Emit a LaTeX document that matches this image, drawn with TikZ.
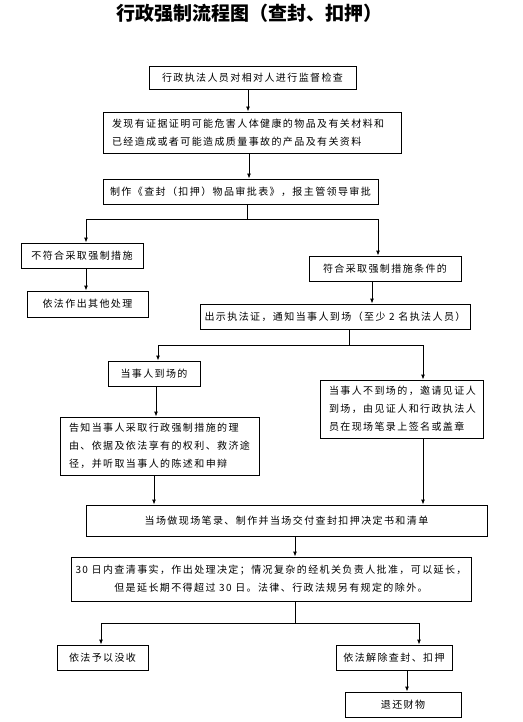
\documentclass[tikz,border=0pt]{standalone}
\usepackage{fontspec}
\setmainfont{Noto Sans CJK SC}[LetterSpace=14]
\newfontfamily\titlefont{Noto Sans CJK SC}
\usetikzlibrary{arrows.meta}
\begin{document}
\begin{tikzpicture}[x=1pt,y=-1pt,
  box/.style={draw, line width=0.9pt, inner sep=0pt, align=center, font=\fontsize{10}{18}\selectfont},
  lbox/.style={box, align=left, inner xsep=9pt},
  conn/.style={line width=0.9pt},
  arr/.style={conn, -{Latex[length=5pt,width=4pt]}}]
\useasboundingbox (0,0) rectangle (522,722);
\node[font=\titlefont\bfseries\fontsize{19}{19}\selectfont] (title) at (249,13.5) {行政强制流程图（查封、扣押）};

\node[box, minimum width=207pt, minimum height=23pt] (b1) at (252.5,77.5) {行政执法人员对相对人进行监督检查};
\node[lbox, text width=280pt, minimum height=41pt] (b2) at (252,132.5) {发现有证据证明可能危害人体健康的物品及有关材料和\\已经造成或者可能造成质量事故的产品及有关资料};
\node[box, minimum width=275pt, minimum height=25pt] (b3) at (240.5,191.5) {制作《查封（扣押）物品审批表》，报主管领导审批};
\node[box, minimum width=122pt, minimum height=25pt] (b4) at (82,255.5) {不符合采取强制措施};
\node[box, minimum width=121pt, minimum height=26pt] (b5) at (87.5,304) {依法作出其他处理};
\node[box, minimum width=152pt, minimum height=25pt] (b6) at (385,268.5) {符合采取强制措施条件的};
\node[box, minimum width=270pt, minimum height=25pt] (b7) at (335,316.5) {出示执法证，通知当事人到场（至少 2 名执法人员）};
\node[box, minimum width=92pt, minimum height=25pt] (b8) at (154,373.5) {当事人到场的};
\node[lbox, text width=145pt, minimum height=58pt] (b9) at (401.5,409) {当事人不到场的，邀请见证人\\到场，由见证人和行政执法人\\员在现场笔录上签名或盖章};
\node[lbox, text width=181pt, minimum height=58pt] (b10) at (159.5,446) {告知当事人采取行政强制措施的理\\由、依据及依法享有的权利、救济途\\径，并听取当事人的陈述和申辩};
\node[box, minimum width=401pt, minimum height=31pt] (b11) at (286.5,520.5) {当场做现场笔录、制作并当场交付查封扣押决定书和清单};
\node[box, minimum width=400pt, minimum height=44pt] (b12) at (271,579) {30 日内查清事实，作出处理决定；情况复杂的经机关负责人批准，可以延长，\\但是延长期不得超过 30 日。法律、行政法规另有规定的除外。};
\node[box, minimum width=91pt, minimum height=25pt] (b13) at (102.5,657.5) {依法予以没收};
\node[box, minimum width=116pt, minimum height=25pt] (b14) at (394,657.5) {依法解除查封、扣押};
\node[box, minimum width=116pt, minimum height=25pt] (b15) at (403,704.5) {退还财物};

\coordinate (j1) at (247,219);
\coordinate (j2) at (349,345);
\coordinate (j3) at (295,623);

\draw[arr] (248,0 |- b1.south) -- (248,0 |- b2.north);
\draw[arr] (249,0 |- b2.south) -- (249,0 |- b3.north);
\draw[conn] (b3.south -| j1) -- (j1);
\draw[arr] (j1) -| (86,0 |- b4.north);
\draw[arr] (j1) -| (378,0 |- b6.north);
\draw[arr] (86,0 |- b4.south) -- (86,0 |- b5.north);
\draw[arr] (372,0 |- b6.south) -- (372,0 |- b7.north);
\draw[conn] (b7.south -| j2) -- (j2);
\draw[arr] (j2) -| (158,0 |- b8.north);
\draw[arr] (j2) -| (423,0 |- b9.north);
\draw[arr] (156,0 |- b8.south) -- (156,0 |- b10.north);
\draw[arr] (154,0 |- b10.south) -- (154,0 |- b11.north);
\draw[arr] (423,0 |- b9.south) -- (423,0 |- b11.north);
\draw[arr] (295,0 |- b11.south) -- (295,0 |- b12.north);
\draw[conn] (b12.south -| j3) -- (j3);
\draw[arr] (j3) -| (101,0 |- b13.north);
\draw[arr] (j3) -| (419,0 |- b14.north);
\draw[arr] (407,0 |- b14.south) -- (407,0 |- b15.north);
\end{tikzpicture}
\end{document}
